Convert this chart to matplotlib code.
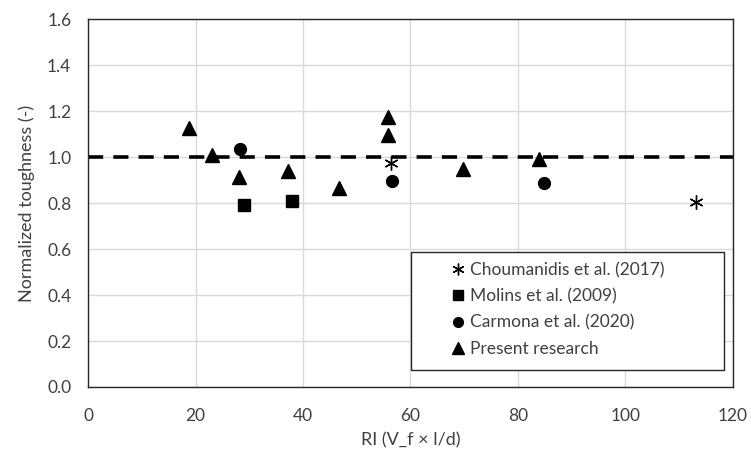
import matplotlib
matplotlib.use("Agg")
import matplotlib.pyplot as plt
from matplotlib.lines import Line2D
from matplotlib.patches import Rectangle

plt.rcParams['font.family'] = ['Lato', 'DejaVu Sans']

# Choumanidis et al. (2017)
chou_ri = [56.3, 113.2]
chou_tough = [0.975, 0.806]
# Molins et al. (2009)
molins_ri = [29.0, 38.0]
molins_tough = [0.79, 0.81]
# Carmona et al. (2020)
carmona_ri = [28.3, 56.6, 84.8]
carmona_tough = [1.035, 0.898, 0.886]
# Present research
present_ri = [18.8, 23.1, 28.0, 37.3, 46.7, 55.9, 55.9, 69.8, 83.9]
present_tough = [1.126, 1.01, 0.914, 0.94, 0.864, 1.175, 1.096, 0.948, 0.99]

reference_level = 1.0
x_ticks = [0, 20, 40, 60, 80, 100, 120]
y_ticks = [0.0, 0.2, 0.4, 0.6, 0.8, 1.0, 1.2, 1.4, 1.6]
labels = ["Choumanidis et al. (2017)", "Molins et al. (2009)",
          "Carmona et al. (2020)", "Present research"]

text_color = '#404040'

fig = plt.figure(figsize=(7.51, 4.57), dpi=100)
ax = fig.add_axes([0.1172, 0.1532, 0.976 - 0.1172, 0.958 - 0.1532])

ax.set_xlim(0, 120)
ax.set_ylim(0, 1.6)
ax.set_xticks(x_ticks)
ax.set_yticks(y_ticks)
ax.set_yticklabels([f"{v:.1f}" for v in y_ticks])
ax.grid(True, color='#d9d9d9', linewidth=1.0)
ax.set_axisbelow(True)
ax.tick_params(length=0, labelsize=12.5, colors=text_color)
ax.tick_params(axis='x', pad=15)
ax.tick_params(axis='y', pad=12)
for s in ax.spines.values():
    s.set_color('#262626')
    s.set_linewidth(1.0)

ax.axhline(reference_level, color='black', linewidth=2.6, dashes=(4.2, 2.8), zorder=2)

ax.plot(chou_ri, chou_tough, linestyle='none', marker=(6, 2, 0), markersize=10,
        markeredgewidth=1.0, color='black', zorder=3)
ax.plot(molins_ri, molins_tough, linestyle='none', marker='s', markersize=8.5,
        color='black', zorder=3)
ax.plot(carmona_ri, carmona_tough, linestyle='none', marker='o', markersize=8.5,
        color='black', zorder=3)
ax.plot(present_ri, present_tough, linestyle='none', marker='^', markersize=10,
        color='black', zorder=3)

ax.set_xlabel("RI (V_f × l/d)", fontsize=13, color=text_color, labelpad=6)
ax.set_ylabel("Normalized toughness (-)", fontsize=13, color=text_color, labelpad=9)

# legend box drawn as its own frame, entries indented inside it
ax.add_patch(Rectangle((0.5008, 0.0462), 0.4852, 0.3206, transform=ax.transAxes,
                       facecolor='white', edgecolor='#262626', linewidth=1.0, zorder=4))

handles = [
    Line2D([], [], linestyle='none', marker=(6, 2, 0), markersize=8.5, markeredgewidth=1.0, color='black'),
    Line2D([], [], linestyle='none', marker='s', markersize=7.5, color='black'),
    Line2D([], [], linestyle='none', marker='o', markersize=7, color='black'),
    Line2D([], [], linestyle='none', marker='^', markersize=8.5, color='black'),
]
leg = ax.legend(handles, labels, loc='center left', bbox_to_anchor=(0.563, 0.2106),
                fontsize=12.5, frameon=False, handlelength=0.8, handletextpad=0.3,
                labelspacing=0.58, borderpad=0, borderaxespad=0)
leg.set_zorder(5)
for t in leg.get_texts():
    t.set_color(text_color)

fig.savefig("out.png", dpi=100)
